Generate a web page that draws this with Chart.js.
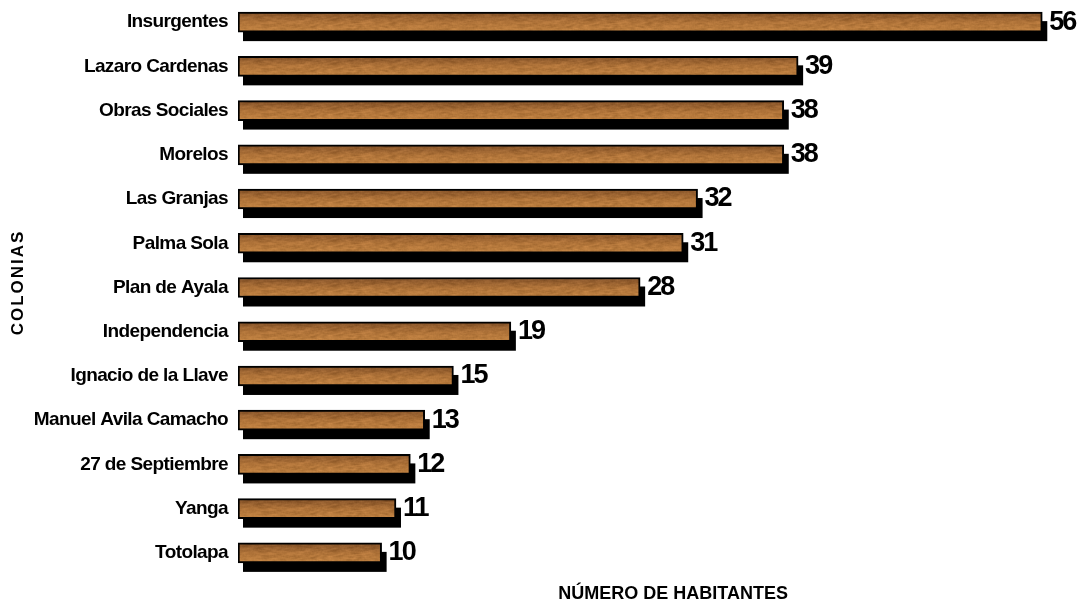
<!DOCTYPE html>
<html>
<head>
<meta charset="utf-8">
<title>Colonias - número de habitantes</title>
<script src="https://cdn.jsdelivr.net/npm/chart.js@4/dist/chart.umd.min.js"></script>
<style>
  html, body { margin: 0; padding: 0; background: #fff; overflow: hidden; }
  #wrap { width: 1079px; height: 607px; }
</style>
</head>
<body>
<div id="wrap"><canvas id="myChart"></canvas></div>
<script>
// data
const colonias = [
  "Insurgentes", "Lazaro Cardenas", "Obras Sociales", "Morelos", "Las Granjas",
  "Palma Sola", "Plan de Ayala", "Independencia", "Ignacio de la Llave",
  "Manuel Avila Camacho", "27 de Septiembre", "Yanga", "Totolapa"
];
const habitantes = [56, 39, 38, 38, 32, 31, 28, 19, 15, 13, 12, 11, 10];
const xTitle = "NÚMERO DE HABITANTES";
const yTitle = "COLONIAS";

const FONT = "'Liberation Sans', Arial, sans-serif";

// wood-ish texture tile, one bar high (deterministic, tiles horizontally)
function woodTile() {
  const w = 256, h = 20;
  const c = document.createElement("canvas");
  c.width = w; c.height = h;
  const g = c.getContext("2d");
  const img = g.createImageData(w, h);
  const raw = [];
  for (let y = 0; y < h; y++) {
    raw.push([]);
    for (let x = 0; x < w; x++) {
      const s = Math.sin(x * 12.9898 + y * 78.233) * 43758.5453;
      raw[y].push(s - Math.floor(s));
    }
  }
  for (let y = 0; y < h; y++) {
    const t = y / (h - 1);
    // darker at the top, lighter orange near the bottom
    const r0 = t < 0.5 ? 132 + t * 2 * 42 : 174 + (t - 0.5) * 2 * 16;
    const g0 = t < 0.5 ? 82 + t * 2 * 32 : 114 + (t - 0.5) * 2 * 14;
    const b0 = t < 0.5 ? 40 + t * 2 * 16 : 56 + (t - 0.5) * 2 * 8;
    for (let x = 0; x < w; x++) {
      let n = 0;
      for (let k = -2; k <= 2; k++) {
        n += raw[y][(x + k + w) % w] * 0.7 + raw[(y + 1) % h][(x + k + w) % w] * 0.3;
      }
      n = n / 5 - 0.5;
      const wave = 0.5 * Math.sin((x / w) * Math.PI * 2 * 3 + y * 0.6) + 0.5 * Math.sin((x / w) * Math.PI * 2 * 11 + y);
      const d = n * 55 + wave * 5;
      const i = (y * w + x) * 4;
      img.data[i] = r0 + d;
      img.data[i + 1] = g0 + d * 0.8;
      img.data[i + 2] = b0 + d * 0.6;
      img.data[i + 3] = 255;
    }
  }
  g.putImageData(img, 0, 0);
  return c;
}

const tile = woodTile();
const patternCtx = document.createElement("canvas").getContext("2d");
const barPatterns = habitantes.map(function () {
  return patternCtx.createPattern(tile, "repeat");
});

// black drop shadow behind each bar, value labels, axis titles
const barDecor = {
  id: "barDecor",
  beforeDraw(chart) {
    chart.ctx.letterSpacing = "-0.6px";
  },
  beforeDatasetsDraw(chart) {
    const ctx = chart.ctx;
    const meta = chart.getDatasetMeta(0);
    ctx.save();
    ctx.fillStyle = "#000";
    meta.data.forEach(function (bar, i) {
      const p = bar.getProps(["x", "y", "base", "height"], true);
      const top = p.y - p.height / 2;
      barPatterns[i].setTransform(new DOMMatrix().translate(0, Math.round(top)));
      ctx.fillRect(p.base + 5, top + 9, p.x - p.base, p.height);
    });
    ctx.restore();
  },
  afterDatasetsDraw(chart) {
    const ctx = chart.ctx;
    const meta = chart.getDatasetMeta(0);
    ctx.save();
    ctx.fillStyle = "#000";
    ctx.font = "bold 27px " + FONT;
    ctx.letterSpacing = "-2px";
    ctx.textAlign = "left";
    ctx.textBaseline = "middle";
    meta.data.forEach(function (bar, i) {
      const p = bar.getProps(["x", "y"], true);
      ctx.fillText(String(habitantes[i]), p.x + 7, p.y);
    });
    ctx.restore();
  },
  afterDraw(chart) {
    const ctx = chart.ctx;
    const area = chart.chartArea;
    ctx.save();
    ctx.fillStyle = "#000";
    ctx.textAlign = "center";
    ctx.textBaseline = "middle";
    // x title, centred where the original 0-60 axis was centred
    ctx.font = "bold 18px " + FONT;
    ctx.letterSpacing = "0px";
    ctx.fillText(xTitle, chart.scales.x.getPixelForValue(30.3), area.bottom + 19);
    // y title, rotated
    ctx.font = "bold 17px " + FONT;
    ctx.letterSpacing = "2px";
    ctx.translate(18, (area.top + area.bottom) / 2 - 5);
    ctx.rotate(-Math.PI / 2);
    ctx.fillText(yTitle, 0, 0);
    ctx.restore();
  }
};

const data = {
  labels: colonias,
  datasets: [
    {
      label: xTitle,
      data: habitantes,
      backgroundColor: barPatterns,
      borderColor: "#000",
      borderWidth: 2,
      borderSkipped: false,
      barThickness: 20,
    },
  ],
};

const config = {
  type: "bar",
  data,
  plugins: [barDecor],
  options: {
    indexAxis: "y",
    responsive: true,
    maintainAspectRatio: false,
    animation: false,
    layout: { padding: { top: 0, right: 8, bottom: 32, left: 0 } },
    plugins: {
      legend: { display: false },
      tooltip: { enabled: false },
    },
    scales: {
      x: {
        display: false,
        min: 0,
        max: 58,
      },
      y: {
        grid: { display: false, drawTicks: false },
        border: { display: false },
        ticks: {
          color: "#000",
          padding: 10,
          font: { family: FONT, size: 19, weight: "bold" },
        },
        afterFit(scale) {
          scale.width = 238;
          scale.paddingTop = 0;
          scale.paddingBottom = 0;
        },
      },
    },
  },
};

const myChart = new Chart(document.getElementById("myChart"), config);
</script>
</body>
</html>
